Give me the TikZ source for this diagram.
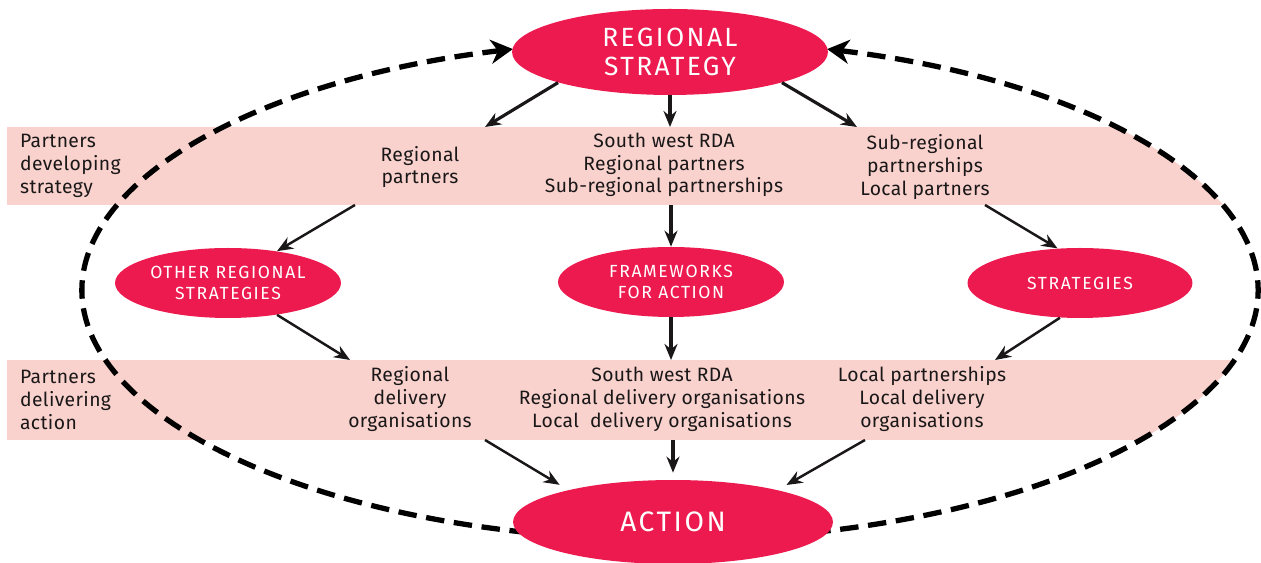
\documentclass[tikz,border=0pt]{standalone}
\usepackage{fontspec}
\setmainfont[LetterSpace=2]{Fira Sans}
\newfontfamily\capsfont[LetterSpace=9]{Fira Sans}
\usepackage{tikz}
\usetikzlibrary{arrows.meta,positioning,calc,shapes.geometric}
\definecolor{swred}{HTML}{ED1A4F}
\definecolor{swband}{HTML}{F9D2CD}
\definecolor{swink}{HTML}{1A1718}

\begin{document}
\begin{tikzpicture}[x=0.02cm,y=0.02cm,
    bandbox/.style={inner sep=0pt,outer sep=0pt,minimum width=25.08cm,anchor=west},
    redblob/.style={ellipse,fill=swred,text=white,inner sep=0pt,align=center,
      font=\capsfont\fontsize{10}{12}\selectfont},
    who/.style={text=swink,align=center,inner sep=1pt,font=\fontsize{11}{13}\selectfont},
    flow/.style={-{Stealth[length=3.2mm,width=2.6mm]},line width=1.4pt,swink},
    loop/.style={-{Stealth[length=4.4mm,width=4.8mm,inset=1.4mm]},line width=3pt,
      dash pattern=on 10.5pt off 5.5pt}]
    \useasboundingbox (0,0) rectangle (1261,563);
    % the two partner bands, cut off by the loop on the right
    \node[bandbox,minimum height=1.56cm] (band1) at (7,397) {};
    \node[bandbox,minimum height=1.6cm] (band2) at (7,163) {};
    \fill[swband] (band1.south west) rectangle (band1.north -| 670,0);
    \fill[swband] (band2.south west) rectangle (band2.north -| 670,0);
    \begin{scope}
      \clip (670,273) ellipse [x radius=588,y radius=250];
      \fill[swband] (band1.south west) rectangle (band1.north east);
      \fill[swband] (band2.south west) rectangle (band2.north east);
    \end{scope}
    % dashed feedback loop
    \draw[loop] ($(670,273)+(256:588 and 250)$) arc[start angle=256,end angle=105.5,x radius=588,y radius=250];
    \draw[loop] ($(670,273)+(-76:588 and 250)$) arc[start angle=-76,end angle=74.5,x radius=588,y radius=250];
    % strategies and action
    \node[redblob,minimum width=6.32cm,minimum height=1.72cm,font=\capsfont\fontsize{15}{17}\selectfont] (rs) at (670,511) {REGIONAL\\STRATEGY};
    \node[redblob,minimum width=4.52cm,minimum height=1.4cm] (ors) at (228,280) {OTHER REGIONAL\\STRATEGIES};
    \node[redblob,minimum width=4.52cm,minimum height=1.4cm] (ffa) at (671,281) {FRAMEWORKS\\FOR ACTION};
    \node[redblob,minimum width=4.5cm,minimum height=1.4cm] (str) at (1080,280) {STRATEGIES};
    \node[redblob,minimum width=6.4cm,minimum height=1.68cm,font=\capsfont\fontsize{16}{18}\selectfont] (act) at (673,41) {ACTION};
    % band labels
    \node[who,anchor=west,align=left] (pds) at (18,397) {Partners\\developing\\strategy};
    \node[who] (rp) at (420,396) {Regional\\partners};
    \node[who] (swdev) at (664,398) {South west RDA\\Regional partners\\Sub-regional partnerships};
    \node[who] (srp) at (925,396) {Sub-regional\\partnerships\\Local partners};
    \node[who,anchor=west,align=left] (pda) at (18,163) {Partners\\delivering\\action};
    \node[who] (rdo) at (410,164) {Regional\\delivery\\organisations};
    \node[who] (swdel) at (662,164) {South west RDA\\Regional delivery organisations\\Local\ \ delivery organisations};
    \node[who] (lpd) at (922,164) {Local partnerships\\Local delivery\\organisations};
    % arrows
    \draw[flow,line width=1.8pt] (rs.south west) -- (band1.north -| 485,0);
    \draw[flow,line width=1.8pt] (rs.south) -- (band1.north -| rs.south);
    \draw[flow,line width=1.8pt] (rs.south east) -- (band1.north -| 857,0);
    \draw[flow] (band1.south -| 355,0) -- (ors.33);
    \draw[flow,line width=1.8pt] (band1.south -| ffa.north) -- (ffa.north);
    \draw[flow] (band1.south -| 985,0) -- (str.123);
    \draw[flow] (ors.-33) -- (band2.north -| 350,0);
    \draw[flow,line width=1.8pt] (ffa.south) -- (band2.north -| ffa.south);
    \draw[flow] (str.240) -- (band2.north -| 995,0);
    \draw[flow,shorten >=2mm] (band2.south -| 485,0) -- (act.163);
    \draw[flow,line width=1.8pt,shorten >=1.4mm] (band2.south -| act.north) -- (act.north);
    \draw[flow,shorten >=2mm] (band2.south -| 865,0) -- (act.17);
  \end{tikzpicture}
\end{document}
